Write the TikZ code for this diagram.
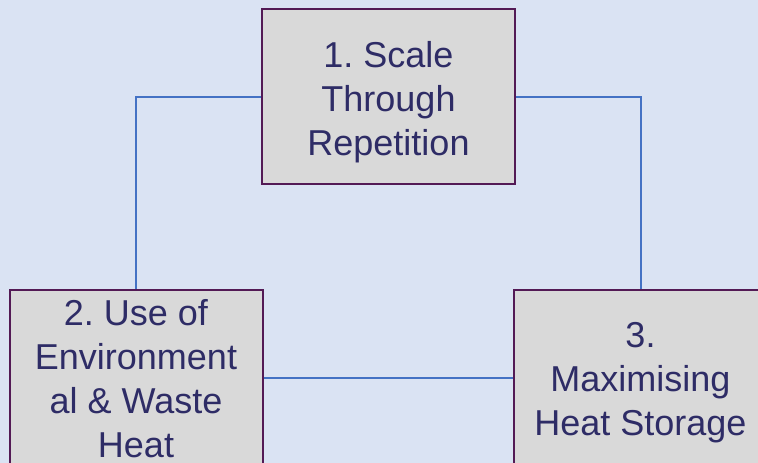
\documentclass[tikz,border=0pt]{standalone}
\usepackage{fontspec}
\setmainfont{Liberation Sans}
\definecolor{bg}{HTML}{DAE3F3}
\definecolor{boxfill}{HTML}{D9D9D9}
\definecolor{boxline}{HTML}{531A55}
\definecolor{txt}{HTML}{2E2C66}
\definecolor{conn}{HTML}{4472C4}
\begin{document}
\frenchspacing
\begin{tikzpicture}[x=1pt,y=-1pt,
  stagebox/.style={draw=boxline, line width=2pt, fill=boxfill, minimum width=253pt, minimum height=175pt, inner sep=0pt},
  stagetext/.style={align=center, inner sep=0pt, text=txt, font=\fontsize{36}{44}\selectfont},
  link/.style={draw=conn, line width=2pt}]
\fill[bg] (0,0) rectangle (758,463);
\useasboundingbox (0,0) rectangle (758,463);
\node[stagebox] (n1) at (388.5,96.5) {};
\node[stagebox, minimum height=176pt] (n2) at (136,378) {};
\node[stagebox, minimum height=176pt] (n3) at (640.5,378) {};
\draw[link] (n1.west) -| (n2.north);
\draw[link] (n1.east) -| (n3.north);
\draw[link] (n2.east) -- (n3.west);
\node[stagetext] (t1) at (388.5,102) {1. Scale\\Through\\Repetition};
\node[stagetext] (t2) at (136,379) {2. Use of\\Environment\\al \& Waste\\Heat};
\node[stagetext] (t3) at (640.5,383) {3.\\Maximising\\Heat Storage};
\end{tikzpicture}
\end{document}
